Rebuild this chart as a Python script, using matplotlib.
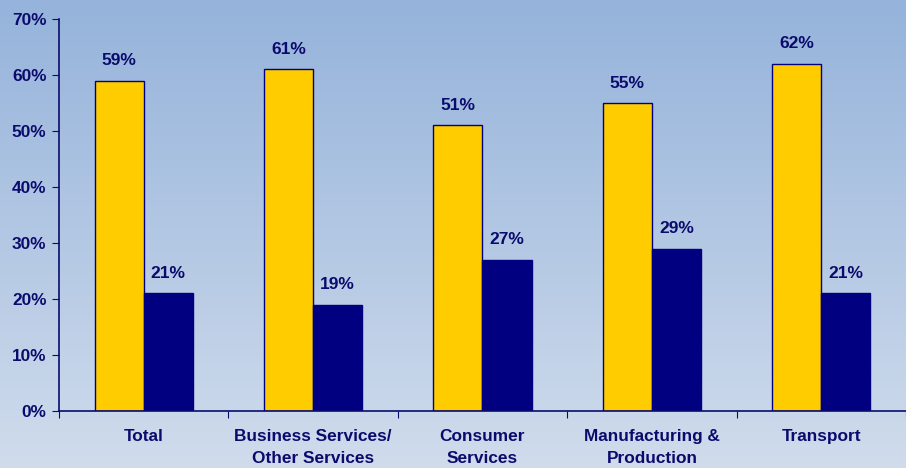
import matplotlib.pyplot as plt
import numpy as np
from matplotlib.colors import LinearSegmentedColormap

plt.rcParams['font.family'] = ['Liberation Sans', 'DejaVu Sans']

categories = ['Total', 'Business Services/\nOther Services', 'Consumer\nServices',
              'Manufacturing &\nProduction', 'Transport']
serie_a = [59, 61, 51, 55, 62]
serie_b = [21, 19, 27, 29, 21]

azul = '#0B0B6E'
amarillo = '#FFCC00'
marino = '#000080'

fig = plt.figure(figsize=(9.06, 4.68), dpi=100)

# fondo degradado
fondo = fig.add_axes([0, 0, 1, 1], zorder=-1)
cmap = LinearSegmentedColormap.from_list('fondo', ['#95B3DB', '#D0DCEC'])
grad = np.linspace(0, 1, 256).reshape(-1, 1)
fondo.imshow(grad, aspect='auto', cmap=cmap, extent=[0, 1, 0, 1])
fondo.axis('off')

ax = fig.add_axes([0.0651, 0.1218, 0.9349, 0.8376])
ax.patch.set_alpha(0)

x = np.arange(len(categories))
w = 0.29
b1 = ax.bar(x - w / 2, serie_a, w, color=amarillo, edgecolor=marino, linewidth=1)
b2 = ax.bar(x + w / 2, serie_b, w, color=marino, edgecolor=marino, linewidth=1)

for barras, vals in [(b1, serie_a), (b2, serie_b)]:
    for b, v in zip(barras, vals):
        ax.text(b.get_x() + b.get_width() / 2, v + 2.2, f'{v}%', ha='center', va='bottom',
                color=azul, fontsize=12.5, fontweight='bold')

ax.set_xlim(-0.5, len(categories) - 0.5)
ax.set_ylim(0, 70)
ax.set_yticks(range(0, 71, 10))
ax.set_yticklabels([f'{v}%' for v in range(0, 71, 10)])

ax.set_xticks(np.arange(-0.5, len(categories) - 0.4, 1))
ax.set_xticklabels([])
ax.set_xticks(x, minor=True)
ax.set_xticklabels(categories, minor=True)
ax.tick_params(axis='x', which='minor', length=0, pad=13, labelsize=12.4, labelcolor=azul)
ax.tick_params(axis='x', which='major', length=5, color=azul, direction='out')
ax.tick_params(axis='y', length=5, color=azul, labelsize=12.4, labelcolor=azul, pad=4)
for lab in ax.get_xticklabels(minor=True) + ax.get_yticklabels():
    lab.set_fontweight('bold')
    lab.set_linespacing(1.55)

for s in ['top', 'right']:
    ax.spines[s].set_visible(False)
for s in ['left', 'bottom']:
    ax.spines[s].set_color(azul)
    ax.spines[s].set_linewidth(1.2)

fig.savefig('out.png', dpi=100)
